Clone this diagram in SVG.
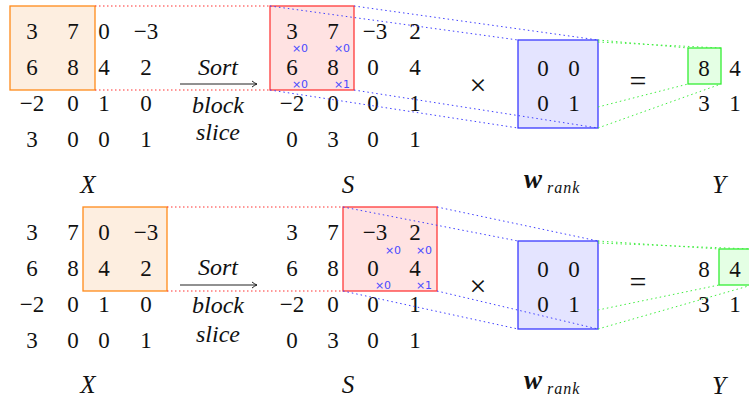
<svg xmlns="http://www.w3.org/2000/svg" width="749" height="402" viewBox="0 0 749 402">
<defs>
<style>
.n{font-family:'Liberation Serif','Times New Roman',serif;font-size:23px;fill:#111;text-anchor:middle}
.op{font-family:'Liberation Serif','Times New Roman',serif;font-size:30px;fill:#111;text-anchor:middle}
.it{font-family:'Liberation Serif','Times New Roman',serif;font-size:24px;font-style:italic;fill:#111;text-anchor:middle}
.lb{font-family:'Liberation Serif','Times New Roman',serif;font-size:25px;font-style:italic;fill:#111;text-anchor:middle}
.wb{font-family:'Liberation Serif','Times New Roman',serif;font-size:27px;font-style:italic;font-weight:bold;fill:#111}
.ws{font-family:'Liberation Serif','Times New Roman',serif;font-size:16px;font-style:italic;fill:#111;letter-spacing:1px}
.sm{font-family:'DejaVu Sans',sans-serif;font-size:11px;fill:#4a4aff;text-anchor:middle}
.ob{fill:#fdeee0;stroke:#ff8a1a;stroke-width:1.3}
.rb{fill:#ffe2e2;stroke:#ff3a3a;stroke-width:1.3}
.bb{fill:#e4e4ff;stroke:#3a3aff;stroke-width:1.3}
.gb{fill:#e4ffe4;stroke:#33ee33;stroke-width:1.3}
.rd{stroke:#ff3030;stroke-width:1;stroke-dasharray:1.5 2.5;fill:none}
.bd{stroke:#4040ff;stroke-width:1;stroke-dasharray:1.5 3;fill:none}
.gd{stroke:#40ee40;stroke-width:1;stroke-dasharray:1.5 3;fill:none}
.ar{stroke:#222;stroke-width:1;fill:none}
</style>
<marker id="ah" markerWidth="8" markerHeight="8" refX="6" refY="4" orient="auto" markerUnits="userSpaceOnUse">
<path d="M1,1 Q4,3.4 6,4 Q4,4.6 1,7" fill="none" stroke="#222" stroke-width="1"/>
</marker>
</defs>

<!-- ============ TOP PANEL ============ -->
<g id="X1">
<rect class="ob" x="10" y="6" width="85" height="84"/>
<text class="n" x="32" y="39">3</text><text class="n" x="73" y="39">7</text><text class="n" x="104" y="39">0</text><text class="n" x="146" y="39">−3</text>
<text class="n" x="32" y="75">6</text><text class="n" x="73" y="75">8</text><text class="n" x="104" y="75">4</text><text class="n" x="146" y="75">2</text>
<text class="n" x="32" y="111">−2</text><text class="n" x="73" y="111">0</text><text class="n" x="104" y="111">1</text><text class="n" x="146" y="111">0</text>
<text class="n" x="32" y="147">3</text><text class="n" x="73" y="147">0</text><text class="n" x="104" y="147">0</text><text class="n" x="146" y="147">1</text>
<text class="lb" x="88" y="193">X</text>
</g>

<g id="S1">
<rect class="rb" x="270" y="6" width="84" height="84"/>
<text class="n" x="292" y="39">3</text><text class="n" x="333" y="39">7</text><text class="n" x="375" y="39">−3</text><text class="n" x="415" y="39">2</text>
<text class="n" x="292" y="75">6</text><text class="n" x="333" y="75">8</text><text class="n" x="373" y="75">0</text><text class="n" x="415" y="75">4</text>
<text class="n" x="292" y="111">−2</text><text class="n" x="333" y="111">0</text><text class="n" x="373" y="111">0</text><text class="n" x="415" y="111">1</text>
<text class="n" x="292" y="147">0</text><text class="n" x="333" y="147">3</text><text class="n" x="373" y="147">0</text><text class="n" x="415" y="147">1</text>
<text class="sm" x="300" y="52">×0</text><text class="sm" x="342" y="52">×0</text>
<text class="sm" x="300" y="88">×0</text><text class="sm" x="342" y="88">×1</text>
<text class="lb" x="348" y="193">S</text>
</g>

<g id="W1">
<rect class="bb" x="518" y="40" width="80" height="88"/>
<text class="n" x="543" y="76">0</text><text class="n" x="574" y="76">0</text>
<text class="n" x="543" y="111">0</text><text class="n" x="574" y="111">1</text>
<text class="wb" x="524" y="188">w</text>
<text class="ws" x="547" y="193">rank</text>
</g>

<g id="Y1">
<rect class="gb" x="688" y="48" width="33" height="36"/>
<text class="n" x="704" y="76">8</text><text class="n" x="735" y="76">4</text>
<text class="n" x="704" y="111">3</text><text class="n" x="735" y="111">1</text>
<text class="lb" x="719" y="193">Y</text>
</g>

<g id="op1">
<text class="it" x="218" y="75">Sort</text>
<text class="it" x="218" y="113">block</text>
<text class="it" x="218" y="140">slice</text>
<text class="op" x="478" y="95">×</text>
<text class="op" x="638" y="91">=</text>
</g>

<!-- ============ BOTTOM PANEL ============ -->
<g id="X2">
<rect class="ob" x="83" y="207" width="84" height="84"/>
<text class="n" x="32" y="240">3</text><text class="n" x="73" y="240">7</text><text class="n" x="104" y="240">0</text><text class="n" x="146" y="240">−3</text>
<text class="n" x="32" y="276">6</text><text class="n" x="73" y="276">8</text><text class="n" x="104" y="276">4</text><text class="n" x="146" y="276">2</text>
<text class="n" x="32" y="312">−2</text><text class="n" x="73" y="312">0</text><text class="n" x="104" y="312">1</text><text class="n" x="146" y="312">0</text>
<text class="n" x="32" y="348">3</text><text class="n" x="73" y="348">0</text><text class="n" x="104" y="348">0</text><text class="n" x="146" y="348">1</text>
<text class="lb" x="88" y="393">X</text>
</g>

<g id="S2">
<rect class="rb" x="343" y="207" width="94" height="84"/>
<text class="n" x="292" y="240">3</text><text class="n" x="333" y="240">7</text><text class="n" x="375" y="240">−3</text><text class="n" x="415" y="240">2</text>
<text class="n" x="292" y="276">6</text><text class="n" x="333" y="276">8</text><text class="n" x="373" y="276">0</text><text class="n" x="415" y="276">4</text>
<text class="n" x="292" y="312">−2</text><text class="n" x="333" y="312">0</text><text class="n" x="373" y="312">0</text><text class="n" x="415" y="312">1</text>
<text class="n" x="292" y="348">0</text><text class="n" x="333" y="348">3</text><text class="n" x="373" y="348">0</text><text class="n" x="415" y="348">1</text>
<text class="sm" x="393" y="254">×0</text><text class="sm" x="424" y="254">×0</text>
<text class="sm" x="383" y="289">×0</text><text class="sm" x="424" y="289">×1</text>
<text class="lb" x="348" y="393">S</text>
</g>

<g id="W2">
<rect class="bb" x="518" y="241" width="80" height="88"/>
<text class="n" x="543" y="277">0</text><text class="n" x="574" y="277">0</text>
<text class="n" x="543" y="312">0</text><text class="n" x="574" y="312">1</text>
<text class="wb" x="524" y="389">w</text>
<text class="ws" x="547" y="394">rank</text>
</g>

<g id="Y2">
<rect class="gb" x="719" y="249" width="33" height="36"/>
<text class="n" x="704" y="277">8</text><text class="n" x="735" y="277">4</text>
<text class="n" x="704" y="312">3</text><text class="n" x="735" y="312">1</text>
<text class="lb" x="719" y="394">Y</text>
</g>

<g id="op2">
<text class="it" x="218" y="275">Sort</text>
<text class="it" x="218" y="313">block</text>
<text class="it" x="218" y="342">slice</text>
<text class="op" x="478" y="296">×</text>
<text class="op" x="638" y="292">=</text>
</g>

<!-- ============ CONNECTORS ============ -->
<g id="connectors">
<line class="ar" x1="180" y1="84" x2="257" y2="84" marker-end="url(#ah)"/>
<line class="ar" x1="180" y1="285" x2="257" y2="285" marker-end="url(#ah)"/>
<line class="rd" x1="95" y1="6" x2="270" y2="6"/>
<line class="rd" x1="95" y1="90" x2="270" y2="90"/>
<line class="rd" x1="167" y1="207" x2="343" y2="207"/>
<line class="rd" x1="167" y1="291" x2="343" y2="291"/>
<line class="bd" x1="270" y1="6" x2="518" y2="40"/>
<line class="bd" x1="354" y1="6" x2="598" y2="40"/>
<line class="bd" x1="270" y1="90" x2="518" y2="128"/>
<line class="bd" x1="354" y1="90" x2="598" y2="128"/>
<line class="bd" x1="343" y1="207" x2="518" y2="241"/>
<line class="bd" x1="437" y1="207" x2="598" y2="241"/>
<line class="bd" x1="343" y1="291" x2="518" y2="329"/>
<line class="bd" x1="437" y1="291" x2="598" y2="329"/>
<line class="gd" x1="598" y1="40" x2="688" y2="48"/>
<line class="gd" x1="598" y1="42" x2="721" y2="48"/>
<line class="gd" x1="598" y1="107" x2="688" y2="84"/>
<line class="gd" x1="598" y1="128" x2="721" y2="84"/>
<line class="gd" x1="598" y1="241" x2="719" y2="249"/>
<line class="gd" x1="598" y1="243" x2="752" y2="249"/>
<line class="gd" x1="598" y1="310" x2="719" y2="285"/>
<line class="gd" x1="598" y1="329" x2="752" y2="285"/>
</g>
</svg>
